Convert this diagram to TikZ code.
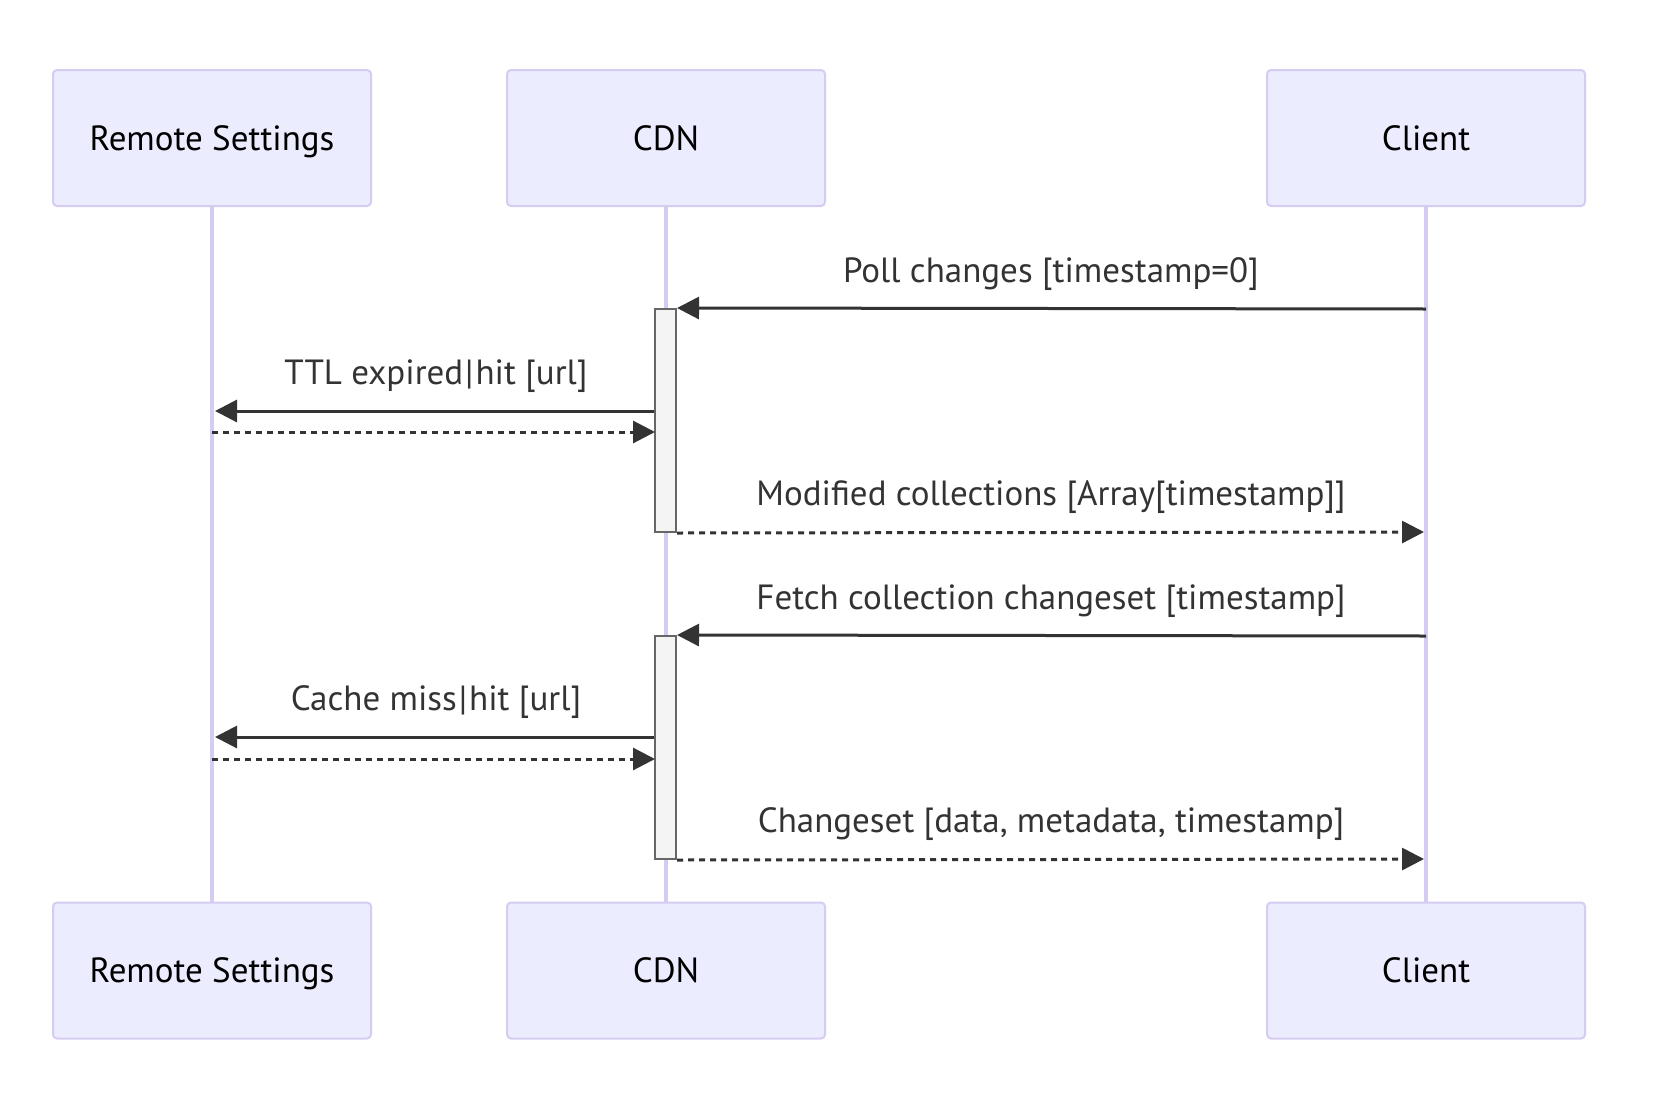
\documentclass[tikz,border=0pt]{standalone}
\usepackage{fontspec}
\setmainfont{PT Sans}
\usetikzlibrary{arrows.meta}
\definecolor{actfill}{HTML}{ECECFF}
\definecolor{actline}{HTML}{D6CCF2}
\definecolor{msgc}{HTML}{333333}
\definecolor{actvfill}{HTML}{F4F4F4}
\definecolor{actvline}{HTML}{666666}
\newcommand{\pipe}{\kern2pt|\kern2pt}
\begin{document}
\begin{tikzpicture}[x=1pt,y=-1pt,
  actor/.style={rectangle, rounded corners=4pt, draw=actline, line width=2pt, fill=actfill,
    minimum width=318pt, minimum height=136pt, inner sep=0pt, text height=24pt, text depth=0pt,
    font=\fontsize{35}{42}\selectfont, text=black},
  lifeline/.style={draw=actline, line width=3.5pt},
  activ/.style={rectangle, draw=actvline, fill=actvfill, line width=2pt,
    minimum width=21pt, minimum height=223pt, inner sep=0pt},
  msgline/.style={draw=msgc, line width=3pt, -{Triangle[length=22pt,width=22pt]}},
  reply/.style={msgline, dash pattern=on 6pt off 5pt},
  lbl/.style={font=\fontsize{35}{42}\selectfont, text=msgc, inner sep=0pt, anchor=base}]
\useasboundingbox (0,0) rectangle (1670,1092);
\fill[white] (0,0) rectangle (1670,1092);
% participants
\node[actor] (rsT) at (212,138) {Remote Settings};
\node[actor] (cdnT) at (666,138) {CDN};
\node[actor] (clT) at (1426,138) {Client};
\node[actor] (rsB) at (212,970.5) {Remote Settings};
\node[actor] (cdnB) at (666,970.5) {CDN};
\node[actor] (clB) at (1426,970.5) {Client};
% lifelines
\draw[lifeline] (rsT.south) -- (rsB.north);
\draw[lifeline] (cdnT.south) -- (cdnB.north);
\draw[lifeline] (clT.south) -- (clB.north);
% activations
\node[activ] (act1) at (665.5,420.5) {};
\node[activ] (act2) at (665.5,747.5) {};
% message end points
\coordinate (p1) at (1426,309);
\coordinate (t1) at (215,411);
\coordinate (r1) at (212,432);
\coordinate (r1e) at (655,432);
\coordinate (m1) at (1424,532);
\coordinate (f1) at (1426,636);
\coordinate (c1) at (215,737);
\coordinate (r2) at (212,759);
\coordinate (r2e) at (655,759);
\coordinate (s1) at (1424,859);
% messages
\draw[msgline] (p1) -- (act1.north east);
\node[lbl] (lp) at (1051,282) {Poll changes [timestamp=0]};
\draw[msgline] (act1.west |- t1) -- (t1);
\node[lbl] (lt) at (436,384) {TTL expired\pipe hit [url]};
\draw[reply] (r1) -- (r1e);
\draw[reply] (act1.south east) -- (m1);
\node[lbl] (lm) at (1051,505) {Modified collections [Array[timestamp]]};
\draw[msgline] (f1) -- (act2.north east);
\node[lbl] (lf) at (1051,609) {Fetch collection changeset [timestamp]};
\draw[msgline] (act2.west |- c1) -- (c1);
\node[lbl] (lc) at (436,710) {Cache miss\pipe hit [url]};
\draw[reply] (r2) -- (r2e);
\draw[reply] (act2.south east) -- (s1);
\node[lbl] (ls) at (1051,832) {Changeset [data, metadata, timestamp]};
\end{tikzpicture}
\end{document}
